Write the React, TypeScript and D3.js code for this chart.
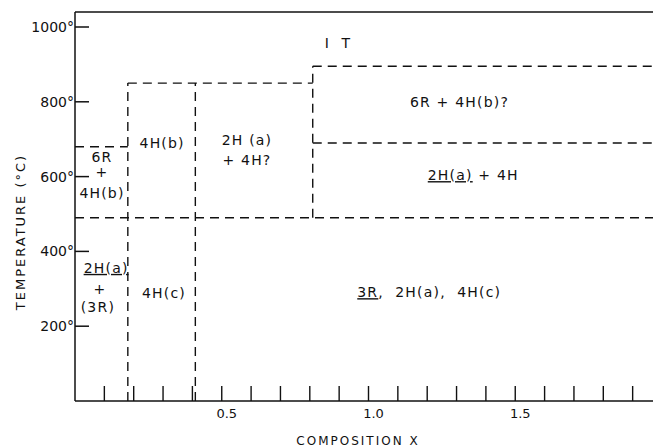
import React, { useRef, useEffect } from 'react';
import * as d3 from 'd3';

// composition axis ticks (minor + labelled)
const xTicks = [0.1, 0.2, 0.3, 0.4, 0.5, 0.6, 0.7, 0.8, 0.9, 1.0, 1.1, 1.2, 1.3, 1.4, 1.5, 1.6, 1.7, 1.8, 1.9];
const xTickLabels = [0.5, 1.0, 1.5];
const yTicks = [200, 400, 600, 800, 1000];

// phase boundaries [x1, T1, x2, T2]
const boundaries = [
  [0, 680, 0.18, 680],
  [0.18, 0, 0.18, 850],
  [0.18, 850, 0.81, 850],
  [0.41, 0, 0.41, 850],
  [0, 490, 2.0, 490],
  [0.81, 490, 0.81, 895],
  [0.81, 895, 2.0, 895],
  [0.81, 690, 2.0, 690],
];

// region labels: composition, temperature, text parts ([text, underlined])
const regionLabels = [
  { x: 0.092, t: 652, parts: [['6R', false]] },
  { x: 0.092, t: 612, parts: [['+', false]] },
  { x: 0.092, t: 556, parts: [['4H(b)', false]] },
  { x: 0.297, t: 690, parts: [['4H(b)', false]] },
  { x: 0.586, t: 698, parts: [['2H (a)', false]] },
  { x: 0.586, t: 644, parts: [['+ 4H?', false]] },
  { x: 1.31, t: 800, parts: [['6R + 4H(b)?', false]] },
  { x: 1.357, t: 604, parts: [['2H(a)', true], [' + 4H', false]] },
  { x: 1.207, t: 291, parts: [['3R', true], [',  2H(a),  4H(c)', false]] },
  { x: 0.106, t: 356, parts: [['2H(a)', true]] },
  { x: 0.085, t: 300, parts: [['+', false]] },
  { x: 0.078, t: 251, parts: [['(3R)', false]] },
  { x: 0.303, t: 289, parts: [['4H(c)', false]] },
  { x: 0.896, t: 957, parts: [['I  T', false]] },
];

const W = 653;
const H = 447;
const FONT = '"DejaVu Sans", "Liberation Sans", sans-serif';

const PhaseDiagram = () => {
  const svgRef = useRef<SVGSVGElement>(null);

  useEffect(() => {
    const svg = d3.select(svgRef.current);
    svg.selectAll('*').remove();

    const x = d3.scaleLinear().domain([0, 2]).range([75, 662]);
    const y = d3.scaleLinear().domain([0, 1000]).range([401, 27]);
    const yTop = y(1040);

    const g = svg.append('g');

    // frame
    g.append('line').attr('x1', x(0)).attr('x2', W).attr('y1', y(0)).attr('y2', y(0))
      .attr('stroke', '#111').attr('stroke-width', 1.5);
    g.append('line').attr('x1', x(0)).attr('x2', x(0)).attr('y1', yTop).attr('y2', y(0))
      .attr('stroke', '#111').attr('stroke-width', 1.5);
    g.append('line').attr('x1', x(0)).attr('x2', W).attr('y1', yTop).attr('y2', yTop)
      .attr('stroke', '#111').attr('stroke-width', 1.5);

    // x ticks (inward)
    g.selectAll('.xt').data(xTicks).enter().append('line')
      .attr('x1', d => x(d)).attr('x2', d => x(d))
      .attr('y1', y(0)).attr('y2', y(0) - 15)
      .attr('stroke', '#111').attr('stroke-width', 1.4);

    g.selectAll('.xl').data(xTickLabels).enter().append('text')
      .attr('x', d => x(d) + 5).attr('y', y(0) + 17)
      .attr('text-anchor', 'middle')
      .style('font-family', FONT).style('font-size', '13px').attr('fill', '#111')
      .text(d => d.toFixed(1));

    // y ticks (inward)
    g.selectAll('.yt').data(yTicks).enter().append('line')
      .attr('x1', x(0)).attr('x2', x(0) + 14)
      .attr('y1', d => y(d)).attr('y2', d => y(d))
      .attr('stroke', '#111').attr('stroke-width', 1.5);

    g.selectAll('.yl').data(yTicks).enter().append('text')
      .attr('x', x(0) - 1).attr('y', d => y(d) + 5)
      .attr('text-anchor', 'end')
      .style('font-family', FONT).style('font-size', '14px').attr('fill', '#111')
      .text(d => `${d}°`);

    // axis titles
    g.append('text')
      .attr('x', 358).attr('y', 445)
      .attr('text-anchor', 'middle')
      .style('font-family', FONT).style('font-size', '12px').style('letter-spacing', '2px')
      .attr('fill', '#111')
      .text('COMPOSITION X');

    g.append('text')
      .attr('transform', 'translate(25,232) rotate(-90)')
      .attr('text-anchor', 'middle')
      .style('font-family', FONT).style('font-size', '13px').style('letter-spacing', '2px')
      .attr('fill', '#111')
      .text('TEMPERATURE (°C)');

    // phase boundaries
    g.selectAll('.bd').data(boundaries).enter().append('line')
      .attr('x1', d => x(d[0])).attr('y1', d => y(d[1]))
      .attr('x2', d => x(d[2])).attr('y2', d => y(d[3]))
      .attr('stroke', '#111').attr('stroke-width', 1.4)
      .attr('stroke-dasharray', '9,6');

    // region labels
    regionLabels.forEach(lab => {
      const txt = g.append('text')
        .attr('x', x(lab.x)).attr('y', y(lab.t) + 5)
        .attr('text-anchor', 'middle')
        .style('font-family', FONT).style('font-size', '14px').style('letter-spacing', '1.2px')
        .style('white-space', 'pre')
        .attr('fill', '#111');
      lab.parts.forEach(([s, u]) => {
        txt.append('tspan')
          .style('text-decoration', u ? 'underline' : 'none')
          .text(s as string);
      });
    });
  }, []);

  return (
    <svg ref={svgRef} width={W} height={H}
      style={{ position: 'absolute', left: 0, top: 0, background: '#fff' }} />
  );
};

export default function App() {
  return <PhaseDiagram />;
}
